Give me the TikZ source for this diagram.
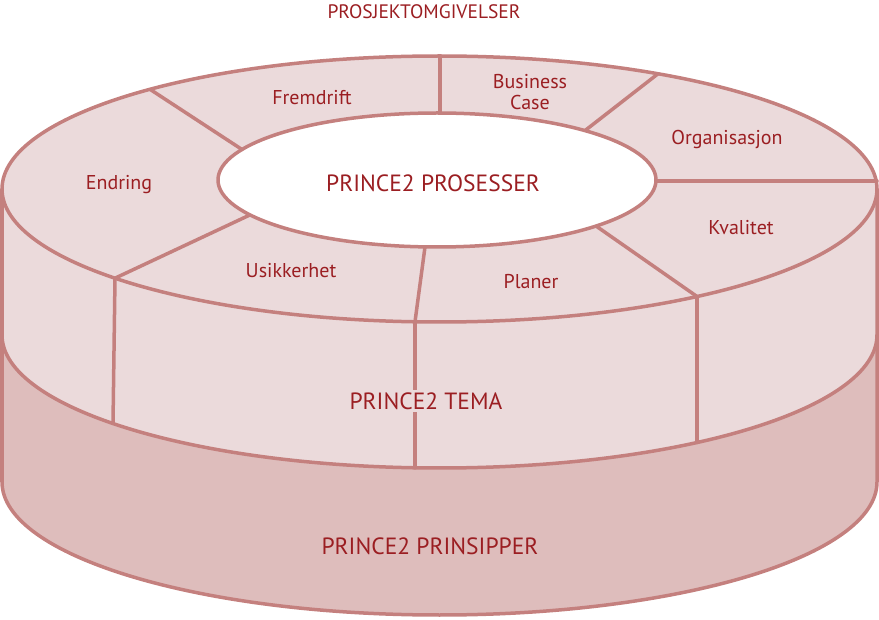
\documentclass[tikz,border=0pt]{standalone}
\usepackage{fontspec}
\setmainfont{PT Sans}
\definecolor{strokec}{HTML}{C4807E}
\definecolor{lightf}{HTML}{EBDADB}
\definecolor{darkf}{HTML}{DEBDBC}
\definecolor{textc}{HTML}{9B1E22}
\begin{document}
\begin{tikzpicture}[x=1pt,y=1pt,
  edge/.style={draw=strokec,line width=3.5pt,line cap=round,line join=round},
  lbl/.style={text=textc,font=\fontsize{20}{21}\selectfont,align=center,inner sep=1pt},
  big/.style={text=textc,font=\fontsize{23.5}{26}\selectfont,inner sep=2pt}]
\useasboundingbox (0,0) rectangle (879,-620);
% bottom band (principles)
\fill[darkf] (2,-189) -- (2,-482) arc[start angle=180,end angle=360,x radius=437.5,y radius=133] -- (877,-189) -- cycle;
% theme band
\fill[lightf] (2,-189) -- (2,-335) arc[start angle=180,end angle=360,x radius=437.5,y radius=133] -- (877,-189) -- cycle;
% outlines of the bands
\draw[edge] (2,-189) -- (2,-482) arc[start angle=180,end angle=360,x radius=437.5,y radius=133] -- (877,-189);
\draw[edge] (2,-335) arc[start angle=180,end angle=360,x radius=437.5,y radius=133];
% theme band verticals
\draw[edge] (115,-278.2) -- (113,-423.5);
\draw[edge] (697,-296.5) -- (697,-442.5);
\draw[edge] (415,-321.8) -- (415,-467.8);
% top ring
\draw[edge,fill=lightf] (439.5,-189) ellipse[x radius=437.5,y radius=133];
% dividers
\draw[edge] (440,-56) -- (440,-113);
\draw[edge] (658,-73.8) -- (585,-130.6);
\draw[edge] (656,-181) -- (877,-181);
\draw[edge] (596,-226) -- (697,-296.5);
\draw[edge] (425,-246.9) -- (415,-321.8);
\draw[edge] (250,-214.9) -- (115,-278.2);
\draw[edge] (150,-89.3) -- (242,-149.5);
% inner ellipse
\draw[edge,fill=white] (437,-180) ellipse[x radius=219,y radius=67];
% labels
\node[text=textc,font=\fontsize{19.5}{21}\selectfont] (env) at (424,-12) {PROSJEKTOMGIVELSER};
\node[lbl] (fremdrift) at (312,-98) {Fremdrift};
\node[lbl] (bcase) at (530,-92) {Business\\Case};
\node[lbl] (org) at (727,-140) {Organisasjon};
\node[lbl] (endring) at (119,-185) {Endring};
\node[lbl] (kval) at (741,-228) {Kvalitet};
\node[lbl] (usikk) at (291,-271) {Usikkerhet};
\node[lbl] (planer) at (531,-282) {Planer};
\node[big] (pros) at (433,-183) {PRINCE2 PROSESSER};
\node[big,fill=lightf,inner xsep=4pt,inner ysep=2pt] (tema) at (426,-401) {PRINCE2 TEMA};
\node[big] (prins) at (430,-546) {PRINCE2 PRINSIPPER};
\end{tikzpicture}
\end{document}
